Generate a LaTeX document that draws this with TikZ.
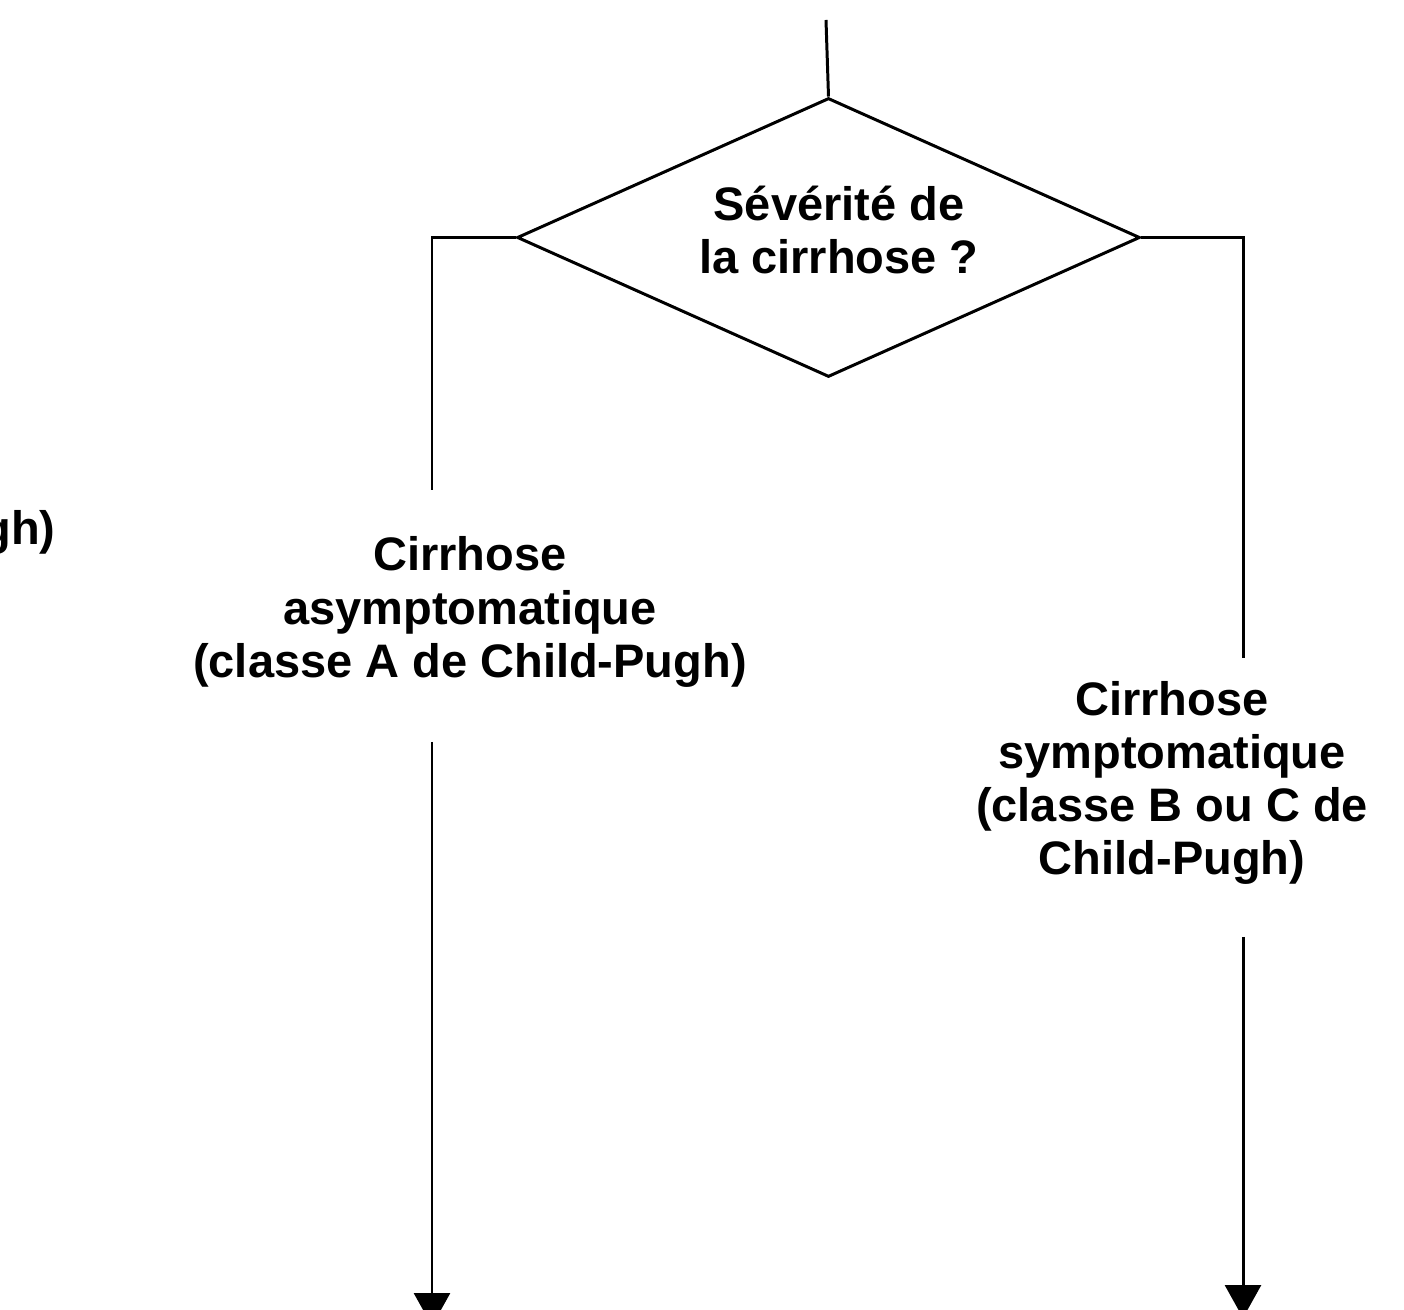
\documentclass[tikz,border=0pt]{standalone}
\usepackage{fontspec}
\setmainfont{Liberation Sans}
\usetikzlibrary{shapes.geometric,arrows.meta}
\begin{document}
\begin{tikzpicture}[x=0.02cm,y=-0.02cm,
  line width=1.7pt,
  lbl/.style={align=center,inner sep=0pt,font=\fontsize{26.75}{30.2}\selectfont\bfseries},
  decision/.style={draw,shape=diamond,minimum width=12.46cm,minimum height=5.58cm,inner sep=0pt},
  arr/.style={-{Triangle[width=0.72cm,length=0.66cm]}}]
\useasboundingbox (0,0) rectangle (1404,1310);
\node[decision] (dia) at (828.5,237.5) {};
\node[lbl] (q) at (839,230) {Sévérité de\\la cirrhose ?};
\coordinate (top) at (826,20);
\coordinate (la) at (432,490);
\coordinate (ra) at (1243,658);
\coordinate (lb) at (432,742);
\coordinate (le) at (432,1326);
\coordinate (rb) at (1243,937);
\coordinate (re) at (1243,1318);
\node[lbl] (asym) at (470,612) {Cirrhose\\asymptomatique\\(classe A de Child-Pugh)};
\node[lbl] (sym) at (1172,783) {Cirrhose\\symptomatique\\(classe B ou C de\\Child-Pugh)};
\node[lbl,anchor=east] (cut) at (57,532) {gh)};
\draw (top) -- (dia.north);
\draw (dia.west) -| (la);
\draw (dia.east) -| (ra);
\draw[arr] (lb) -- (le);
\draw[arr] (rb) -- (re);
\end{tikzpicture}
\end{document}
